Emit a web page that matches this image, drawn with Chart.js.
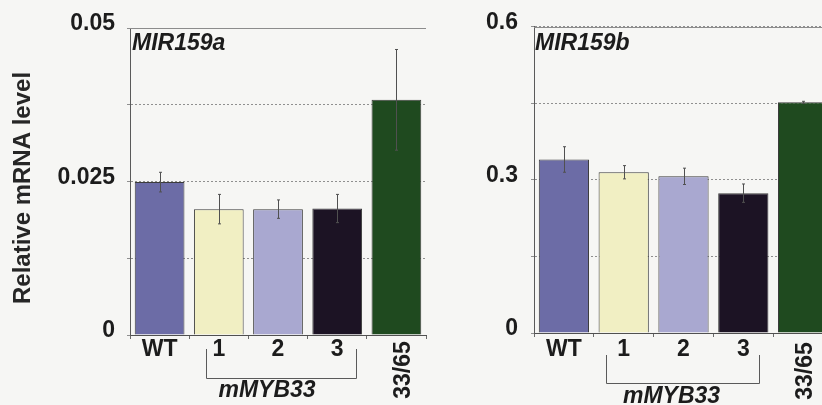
<!DOCTYPE html>
<html><head><meta charset="utf-8">
<script src="https://cdn.jsdelivr.net/npm/chart.js@4"></script>
<style>
html,body{margin:0;padding:0;background:#f6f6f4;width:822px;height:405px;overflow:hidden;position:relative}
#ca{position:absolute;left:0;top:0}
#cb{position:absolute;left:430px;top:0}
</style></head><body>
<canvas id="ca" width="430" height="405"></canvas>
<canvas id="cb" width="410" height="405"></canvas>
<script>
// ---- data ----
const categories = ['WT', '1', '2', '3', '33/65'];
const groupCategories = ['1', '2', '3'];
const groupLabel = 'mMYB33';
const yAxisTitle = 'Relative mRNA level';

const mir159aTitle = 'MIR159a';
const mir159aValues = [0.0249, 0.0205, 0.0205, 0.0206, 0.0383];
const mir159aErrors = [0.0016, 0.0024, 0.0015, 0.0023, 0.0082];
const mir159aTickLabels = [0, 0.025, 0.05];

const mir159bTitle = 'MIR159b';
const mir159bValues = [0.340, 0.315, 0.307, 0.274, 0.452];
const mir159bErrors = [0.025, 0.013, 0.016, 0.018, 0.002];
const mir159bTickLabels = [0, 0.3, 0.6];

// ---- styles ----
const barColors = ['#6c6ca6', '#f1efc3', '#a9a8d0', '#1c1324', '#1f4a1f'];
const FONT = '"Liberation Sans", Arial, sans-serif';
const TEXT = '#1c1c1c';

function makeChart(id, title, values, errors, tickLabels, L) {
  const yMax = tickLabels[tickLabels.length - 1];
  const decor = {
    id: 'decor_' + id,
    afterDatasetsDraw(chart) {
      const ctx = chart.ctx, a = chart.chartArea, x = chart.scales.x, y = chart.scales.y;
      ctx.save();
      // top frame line
      ctx.strokeStyle = '#8c8c8c'; ctx.lineWidth = 1; ctx.setLineDash([]);
      ctx.beginPath(); ctx.moveTo(a.left, Math.round(a.top) + 0.5); ctx.lineTo(a.right, Math.round(a.top) + 0.5); ctx.stroke();
      // error bars
      ctx.strokeStyle = '#505050';
      values.forEach((v, i) => {
        const px = Math.round(x.getPixelForValue(i)) + 0.5;
        const t = y.getPixelForValue(v + errors[i]);
        const b = y.getPixelForValue(v - errors[i]);
        ctx.beginPath();
        ctx.moveTo(px, t); ctx.lineTo(px, b);
        ctx.moveTo(px - 1.5, t); ctx.lineTo(px + 1.5, t);
        ctx.moveTo(px - 1.5, b); ctx.lineTo(px + 1.5, b);
        ctx.stroke();
      });
      // panel title
      ctx.fillStyle = TEXT;
      ctx.font = 'italic bold 23px ' + FONT;
      ctx.textAlign = 'left'; ctx.textBaseline = 'alphabetic';
      ctx.fillText(title, a.left + L.titleDx, L.titleY);
      // category labels
      ctx.font = 'bold 23px ' + FONT;
      categories.forEach((c, i) => {
        const px = x.getPixelForValue(i);
        if (i === categories.length - 1) {
          ctx.save();
          ctx.translate(px + L.rotDx, a.bottom + L.rotDy);
          ctx.rotate(-Math.PI / 2);
          ctx.textAlign = 'center'; ctx.textBaseline = 'middle';
          ctx.fillText(c, 0, 0);
          ctx.restore();
        } else {
          ctx.textAlign = 'center'; ctx.textBaseline = 'middle';
          ctx.fillText(c, px, a.bottom + L.labelDy);
        }
      });
      // bracket
      const i0 = categories.indexOf(groupCategories[0]);
      const i1 = categories.indexOf(groupCategories[groupCategories.length - 1]);
      const im = categories.indexOf(groupCategories[Math.floor(groupCategories.length / 2)]);
      const cw = x.getPixelForValue(1) - x.getPixelForValue(0);
      const bl = Math.round(x.getPixelForValue(i0) + L.brL * cw) + 0.5;
      const br = Math.round(x.getPixelForValue(i1) + L.brR * cw) + 0.5;
      const bt = a.bottom + L.brTop, bb = Math.round(a.bottom + L.brBot) + 0.5;
      ctx.strokeStyle = '#5a5a5a'; ctx.lineWidth = 1;
      ctx.beginPath();
      ctx.moveTo(bl, bt); ctx.lineTo(bl, bb); ctx.lineTo(br, bb); ctx.lineTo(br, bt);
      ctx.stroke();
      ctx.font = 'italic bold 23px ' + FONT;
      ctx.textAlign = 'center'; ctx.textBaseline = 'middle';
      ctx.fillText(groupLabel, x.getPixelForValue(im) + L.grpDx, a.bottom + L.grpDy);
      // y axis title
      if (L.yTitle) {
        ctx.save();
        ctx.font = 'bold 24px ' + FONT;
        ctx.fillStyle = '#262626';
        ctx.translate(L.yTitleX, L.yTitleY);
        ctx.rotate(-Math.PI / 2);
        ctx.textAlign = 'center'; ctx.textBaseline = 'middle';
        ctx.fillText(yAxisTitle, 0, 0);
        ctx.restore();
      }
      ctx.restore();
    }
  };

  return new Chart(document.getElementById(id), {
    type: 'bar',
    data: {
      labels: categories,
      datasets: [{
        data: values,
        backgroundColor: barColors,
        borderColor: '#3c3c3c',
        borderWidth: 1,
        barPercentage: 0.84,
        categoryPercentage: 1.0
      }]
    },
    options: {
      responsive: false,
      animation: false,
      layout: { padding: { top: L.top, right: L.right, bottom: 0, left: 0 } },
      plugins: { legend: { display: false }, tooltip: { enabled: false } },
      scales: {
        x: {
          afterFit(s) { s.height = L.xHeight; },
          ticks: { display: false },
          grid: { offset: true, drawOnChartArea: false, drawTicks: true, tickLength: 4, color: '#6a6a6a' },
          border: { display: true, color: '#505050', width: 1 }
        },
        y: {
          min: 0, max: yMax,
          afterFit(s) { s.width = L.yWidth; },
          ticks: {
            stepSize: yMax / 4,
            padding: L.tickPad,
            labelOffset: -4,
            color: TEXT,
            font: { family: FONT, size: 23, weight: 'bold' },
            callback(v) {
              const hit = tickLabels.find(t => Math.abs(t - v) < yMax * 1e-6);
              return hit === undefined ? '' : String(hit);
            }
          },
          grid: { color: '#8f8f8f', lineWidth: 1, tickLength: 3, drawTicks: true },
          border: { display: true, color: '#5a5a5a', width: 1, dash: [2, 2] }
        }
      }
    },
    plugins: [decor]
  });
}

makeChart('ca', mir159aTitle, mir159aValues, mir159aErrors, mir159aTickLabels, {
  top: 28, right: 4, xHeight: 70, yWidth: 130, tickPad: 12,
  titleDx: 2, titleY: 50,
  labelDy: 14.5, rotDx: 7, rotDy: 35,
  brL: -0.21, brR: 0.31, brTop: 14, brBot: 43, grpDx: -11, grpDy: 56,
  yTitle: true, yTitleX: 23, yTitleY: 188
});

makeChart('cb', mir159bTitle, mir159bValues, mir159bErrors, mir159bTickLabels, {
  top: 26, right: 7, xHeight: 72, yWidth: 104, tickPad: 13,
  titleDx: 1, titleY: 50,
  labelDy: 17, rotDx: 3, rotDy: 38,
  brL: -0.30, brR: 0.27, brTop: 22, brBot: 50, grpDx: -12, grpDy: 64,
  yTitle: false
});
</script>
</body></html>
